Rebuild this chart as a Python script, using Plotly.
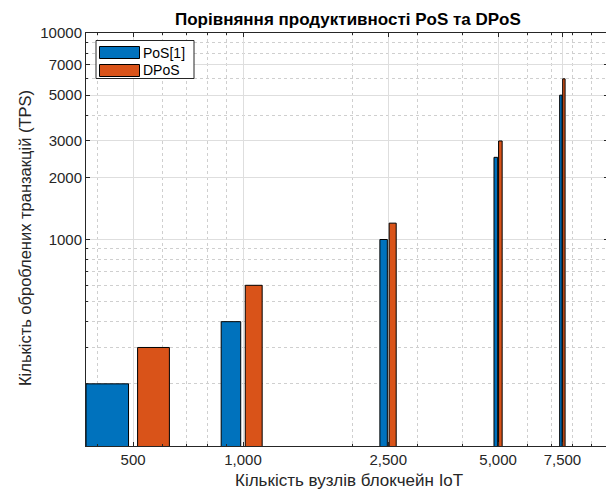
import plotly.graph_objects as go
import math

nodes = [500, 1000, 2500, 5000, 7500]
tick_text = ["500", "1,000", "2,500", "5,000", "7,500"]
pos_tps = [200, 400, 1000, 2500, 5000]
dpos_tps = [300, 600, 1200, 3000, 6000]
series_names = ["PoS[1]", "DPoS"]
colors = ["#0072BD", "#D95319"]

y_ticks = [1000, 2000, 3000, 5000, 7000, 10000]

# MATLAB-style grouped bar geometry (data units on log axis)
spacing = 500
group_w = min(0.8, 2 / 3.5) * spacing
bar_slot = group_w / 2
bar_w = bar_slot * 0.8
offsets = [-bar_slot / 2 - bar_w / 2, bar_slot / 2 - bar_w / 2]

# page has an 8px body margin; figure sized to fit the 614x492 window
OFF = 8
W, H = 614 - OFF, 492 - OFF
# plot area in page pixels: x 86..608, y 33..446
PL, PR, PT, PB = 86, 608, 33, 446
L, T = PL - OFF, PT - OFF
R, B = W - (PR - OFF), H - (PB - OFF)
PW, PH = PR - PL, PB - PT

fig = go.Figure()
for name, vals, col, off in zip(series_names, [pos_tps, dpos_tps], colors, offsets):
    fig.add_trace(go.Bar(
        x=nodes, y=vals, name=name,
        offset=off, width=bar_w, showlegend=False,
        marker=dict(color=col, line=dict(color="#000000", width=1)),
    ))

x_left = nodes[0] + offsets[0]
minor_x = [m * 10 ** e for e in (2, 3) for m in range(1, 10)]
minor_x = [v for v in minor_x if v not in nodes and v > x_left]
minor_y = [m * 10 ** e for e in (2, 3) for m in range(2, 10)]

font = "Liberation Sans, Arial, sans-serif"


def px(xp):
    return (xp - PL) / PW


def py(yp):
    return 1 - (yp - PT) / PH


shapes = []
annotations = []
# legend box (MATLAB-style)
shapes.append(dict(type="rect", xref="paper", yref="paper",
                   x0=px(96), x1=px(194), y0=py(78.5), y1=py(40.5),
                   line=dict(color="#262626", width=1), fillcolor="white", layer="above"))
for i, (name, col) in enumerate(zip(series_names, colors)):
    yc = 52.5 + i * 18
    shapes.append(dict(type="rect", xref="paper", yref="paper",
                       x0=px(99.5), x1=px(139.5), y0=py(yc + 6), y1=py(yc - 6),
                       line=dict(color="#000000", width=1), fillcolor=col, layer="above"))
    annotations.append(dict(text=name, xref="paper", yref="paper",
                            x=px(141), y=py(yc), xanchor="left", yanchor="middle",
                            showarrow=False, font=dict(size=14, color="#000000")))

# titles
annotations.append(dict(text="<b>Порівняння продуктивності PoS та DPoS</b>",
                        xref="paper", yref="paper", x=px(347.5), y=py(19.5),
                        xanchor="center", yanchor="middle", showarrow=False,
                        font=dict(size=17, color="#000000")))
annotations.append(dict(text="Кількість вузлів блокчейн IoT",
                        xref="paper", yref="paper", x=px(349), y=py(480),
                        xanchor="center", yanchor="middle", showarrow=False,
                        font=dict(size=17, color="#262626")))
annotations.append(dict(text="Кількість оброблених транзакцій (TPS)",
                        xref="paper", yref="paper", x=px(25), y=py(238),
                        xanchor="center", yanchor="middle", showarrow=False, textangle=-90,
                        font=dict(size=16.5, color="#262626")))

fig.update_layout(
    width=W, height=H,
    margin=dict(l=L, r=R, t=T, b=B, pad=0),
    paper_bgcolor="white", plot_bgcolor="white",
    barmode="overlay",
    font=dict(family=font, size=15, color="#262626"),
    showlegend=False,
    shapes=shapes, annotations=annotations,
)
fig.update_xaxes(
    type="log", range=[math.log10(x_left), 4], automargin=False,
    tickvals=nodes, ticktext=tick_text, tickfont=dict(size=15),
    showgrid=True, gridcolor="#dedede", gridwidth=1,
    ticks="inside", ticklen=4, tickcolor="#262626",
    showline=True, linecolor="#262626", linewidth=1, mirror="ticks",
    minor=dict(tickvals=minor_x, showgrid=True, gridcolor="#cfcfcf", griddash="dot",
               ticks="inside", ticklen=2, tickcolor="#262626"),
    zeroline=False,
)
fig.update_yaxes(
    type="log", range=[2, 4], automargin=False,
    tickvals=y_ticks, ticktext=[str(v) for v in y_ticks], tickfont=dict(size=15),
    showgrid=True, gridcolor="#dedede", gridwidth=1,
    ticks="inside", ticklen=4, tickcolor="#262626",
    showline=True, linecolor="#262626", linewidth=1, mirror="ticks",
    minor=dict(tickvals=minor_y, showgrid=True, gridcolor="#cfcfcf", griddash="dot",
               ticks="inside", ticklen=2, tickcolor="#262626"),
    zeroline=False,
)
fig.write_html("out.html")
